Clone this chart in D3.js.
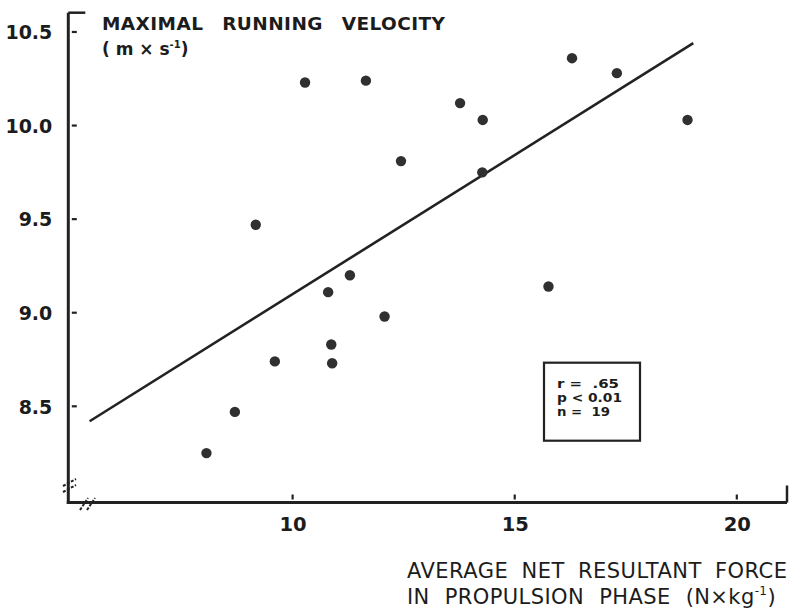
<!DOCTYPE html>
<html>
<head>
<meta charset="utf-8">
<script src="https://cdn.jsdelivr.net/npm/d3@7"></script>
<style>
  html, body { margin: 0; padding: 0; background: #fff; }
  svg { display: block; }
  text { font-family: "DejaVu Sans", sans-serif; fill: #1c1c1c; }
</style>
</head>
<body>
<svg id="chart" width="791" height="609"></svg>
<script>
// Net resultant force in propulsion phase (N/kg) vs maximal running velocity (m/s), one entry per sprinter
const force = [10.28, 11.65, 13.77, 14.28, 12.44, 14.27, 9.17, 16.29, 17.30, 18.89,
               11.29, 10.80, 12.07, 10.87, 9.60, 10.89, 8.70, 8.06, 15.76];
const velocity = [10.23, 10.24, 10.12, 10.03, 9.81, 9.75, 9.47, 10.36, 10.28, 10.03,
                  9.20, 9.11, 8.98, 8.83, 8.74, 8.73, 8.47, 8.25, 9.14];

// Regression line end points
const fitX = [5.43, 19.02];
const fitY = [8.42, 10.44];

// Axis ticks
const xTicks = [10, 15, 20];
const yTicks = [8.5, 9.0, 9.5, 10.0, 10.5];

// Statistics shown in the inset box
const statLines = ["r =  .65", "p < 0.01", "n =  19"];

const svg = d3.select("#chart");
const ink = "#222";

const x = d3.scaleLinear().domain([4.95, 21.13]).range([68.3, 787]);
const y = d3.scaleLinear().domain([7.986, 10.603]).range([502.5, 12.7]);

const x0 = x.range()[0], x1 = x.range()[1];
const yb = y.range()[0], yt = y.range()[1];

// Axis lines
svg.append("line").attr("x1", x0).attr("x2", x0).attr("y1", yt).attr("y2", yb + 1.5)
  .attr("stroke", ink).attr("stroke-width", 3);
svg.append("line").attr("x1", x0).attr("x2", x0 + 17).attr("y1", yt).attr("y2", yt)
  .attr("stroke", ink).attr("stroke-width", 2.5);
svg.append("line").attr("x1", x0 - 1.5).attr("x2", x1).attr("y1", yb).attr("y2", yb)
  .attr("stroke", ink).attr("stroke-width", 3);
svg.append("line").attr("x1", x1).attr("x2", x1).attr("y1", yb).attr("y2", yb - 17)
  .attr("stroke", ink).attr("stroke-width", 2.5);

// Y axis labels via d3 axis
const yAxis = d3.axisLeft(y).tickValues(yTicks).tickFormat(d3.format(".1f"))
  .tickSize(0).tickPadding(16);
const gy = svg.append("g").attr("transform", `translate(${x0},0)`).call(yAxis);
gy.select(".domain").remove();
gy.selectAll("text").style("font-size", "19px").style("font-weight", "bold")
  .style("font-family", "'DejaVu Sans', sans-serif")
  .attr("dy", "0.36em").style("fill", "#1c1c1c");

// small detached tick dashes on the y axis
svg.selectAll(".ytick").data(yTicks).join("line")
  .attr("x1", x0 + 3.5).attr("x2", x0 + 8.5)
  .attr("y1", d => y(d)).attr("y2", d => y(d))
  .attr("stroke", ink).attr("stroke-width", 2.2);

// X axis labels via d3 axis
const xAxis = d3.axisBottom(x).tickValues(xTicks).tickFormat(d3.format("d"))
  .tickSize(0).tickPadding(15);
const gx = svg.append("g").attr("transform", `translate(0,${yb})`).call(xAxis);
gx.select(".domain").remove();
gx.selectAll("text").style("font-size", "19.5px").style("font-weight", "bold")
  .style("font-family", "'DejaVu Sans', sans-serif")
  .attr("dy", "0.71em").style("fill", "#1c1c1c");

svg.selectAll(".xtick").data(xTicks).join("line")
  .attr("x1", d => x(d)).attr("x2", d => x(d))
  .attr("y1", yb - 3).attr("y2", yb - 8)
  .attr("stroke", ink).attr("stroke-width", 2.2);

// Axis break marks
const brk = svg.append("g").attr("stroke", ink).attr("stroke-width", 2).attr("stroke-dasharray", "3,1.5");
[[63, 486, 76, 479], [63, 492, 76, 485], [80, 510, 88, 498], [87, 510, 95, 498]]
  .forEach(s => brk.append("line").attr("x1", s[0]).attr("y1", s[1]).attr("x2", s[2]).attr("y2", s[3]));

// Regression line
const fit = fitX.map((d, i) => [d, fitY[i]]);
svg.append("path")
  .attr("d", d3.line().x(d => x(d[0])).y(d => y(d[1]))(fit))
  .attr("stroke", ink).attr("stroke-width", 2.6).attr("fill", "none");

// Data points
svg.selectAll(".pt").data(force.map((f, i) => [f, velocity[i]])).join("circle")
  .attr("cx", d => x(d[0])).attr("cy", d => y(d[1])).attr("r", 5.2)
  .attr("fill", "#303030");

// Y axis title
svg.append("text").attr("x", 102).attr("y", 30)
  .style("font-size", "18.5px").style("font-weight", "bold")
  .style("word-spacing", "12px")
  .attr("textLength", 343).attr("lengthAdjust", "spacing")
  .text("MAXIMAL RUNNING VELOCITY");
const t2 = svg.append("text").attr("x", 102).attr("y", 55)
  .style("font-size", "17px").style("font-weight", "bold").style("white-space", "pre");
t2.append("tspan").text("( m × s");
t2.append("tspan").attr("dy", -7).style("font-size", "10px").text("-1");
t2.append("tspan").attr("dy", 7).text(")");

// X axis title
svg.append("text").attr("x", 407).attr("y", 578)
  .style("font-size", "21px").style("word-spacing", "6px")
  .attr("textLength", 380).attr("lengthAdjust", "spacing")
  .text("AVERAGE NET RESULTANT FORCE");
const t4 = svg.append("text").attr("x", 407).attr("y", 603.5)
  .style("font-size", "21px").style("word-spacing", "8px").style("letter-spacing", "0.4px");
t4.append("tspan").text("IN PROPULSION PHASE (N×kg");
t4.append("tspan").attr("dy", -9).style("font-size", "12px").text("-1");
t4.append("tspan").attr("dy", 9).text(")");

// Statistics box
svg.append("rect").attr("x", 544).attr("y", 362.7).attr("width", 96).attr("height", 78)
  .attr("fill", "#fff").attr("stroke", ink).attr("stroke-width", 2.2);
svg.selectAll(".stat").data(statLines).join("text")
  .attr("x", 557).attr("y", (d, i) => 388 + i * 14)
  .style("font-size", "12px").style("font-weight", "bold").style("white-space", "pre")
  .attr("textLength", (d, i) => [62, 65, 53][i]).attr("lengthAdjust", "spacingAndGlyphs")
  .text(d => d);
</script>
</body>
</html>
